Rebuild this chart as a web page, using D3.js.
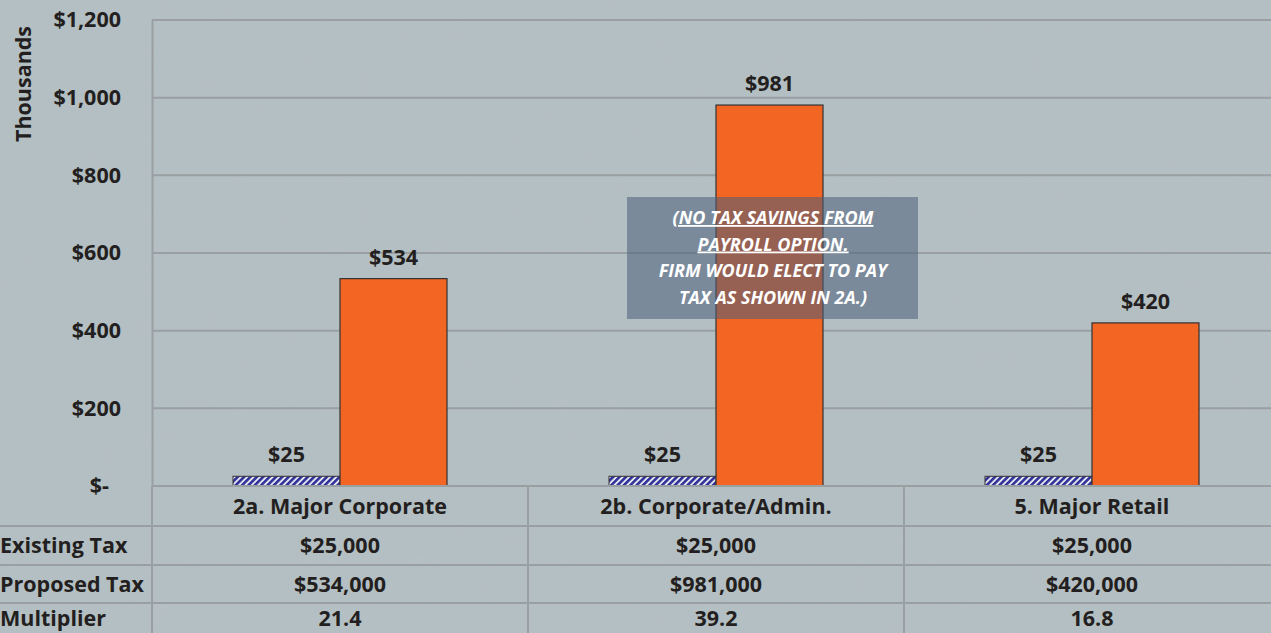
<!DOCTYPE html>
<html>
<head>
<meta charset="utf-8">
<script src="https://cdn.jsdelivr.net/npm/d3@7"></script>
<style>
  body { margin: 0; background: #b4bfc3; overflow: hidden; }
  svg { display: block; font-family: "Open Sans", Lato, sans-serif; }
</style>
</head>
<body>
<div id="chart-area"></div>
<script>
// Data
const categories = ["2a. Major Corporate", "2b. Corporate/Admin.", "5. Major Retail"];
const existingTax = [25, 25, 25];          // thousands
const proposedTax = [534, 981, 420];       // thousands
const multiplier = [21.4, 39.2, 16.8];
const yTicks = [0, 200, 400, 600, 800, 1000, 1200];
const rowLabels = ["Existing Tax", "Proposed Tax", "Multiplier"];
const noteLines = ["(NO TAX SAVINGS FROM", "PAYROLL OPTION.", "FIRM WOULD ELECT TO PAY", "TAX AS SHOWN IN 2A.)"];

const width = 1271, height = 633;
const margin = { top: 20, left: 152, right: -9 };
const plotBottom = 486;
const rowH = [40, 39, 38, 30];
const textColor = "#231f20";
const gridColor = "#9a9fa2";
const fontSize = "21.5px";

const svg = d3.select("#chart-area").append("svg")
    .attr("width", width).attr("height", height);

const defs = svg.append("defs");

// faint texture for the background
const noise = defs.append("filter").attr("id", "noise")
    .attr("x", 0).attr("y", 0).attr("width", "100%").attr("height", "100%");
noise.append("feTurbulence")
    .attr("type", "fractalNoise")
    .attr("baseFrequency", "0.04")
    .attr("numOctaves", 3)
    .attr("seed", 4);
noise.append("feColorMatrix")
    .attr("type", "matrix")
    .attr("values", "0 0 0 0 0.5  0 0 0 0 0.55  0 0 0 0 0.58  0 0 0 -1.2 0.65");
svg.append("rect")
    .attr("width", width).attr("height", height)
    .attr("fill", "#b4bfc3");
svg.append("rect")
    .attr("width", width).attr("height", height)
    .attr("filter", "url(#noise)")
    .attr("opacity", 0.25);

// pattern for existing tax bars
const pat = defs.append("pattern")
    .attr("id", "hatch")
    .attr("patternUnits", "userSpaceOnUse")
    .attr("width", 4.5).attr("height", 4.5)
    .attr("patternTransform", "rotate(45)");
pat.append("rect").attr("width", 4.5).attr("height", 4.5).attr("fill", "#e6e8f0");
pat.append("rect").attr("width", 2.6).attr("height", 4.5).attr("fill", "#30309a");

// Scales
const x = d3.scaleBand()
    .domain(categories)
    .range([margin.left, width - margin.right])
    .paddingInner(0)
    .paddingOuter(0);

const y = d3.scaleLinear()
    .domain([0, 1200])
    .range([plotBottom, margin.top]);

const barW = 107;

// Gridlines
svg.append("g").selectAll("line")
    .data(yTicks.filter(d => d > 0))
    .join("line")
    .attr("x1", margin.left).attr("x2", width)
    .attr("y1", d => y(d)).attr("y2", d => y(d))
    .attr("stroke", gridColor).attr("stroke-width", 2);

// Left axis
const leftAxis = d3.axisLeft(y)
    .tickValues(yTicks)
    .tickSize(0)
    .tickPadding(31)
    .tickFormat(d => d === 0 ? "$-" : "$" + d3.format(",")(d));

const axG = svg.append("g")
    .attr("transform", `translate(${margin.left},0)`)
    .call(leftAxis);
axG.select(".domain").attr("stroke", gridColor).attr("stroke-width", 2);
axG.selectAll("text")
    .attr("font-size", fontSize)
    .attr("font-weight", "bold")
    .attr("fill", textColor)
    .attr("font-family", "'Open Sans', sans-serif");
axG.selectAll(".tick text").filter(d => d === 0).attr("dx", "-12");

// Y axis title
svg.append("text")
    .attr("transform", "rotate(-90)")
    .attr("x", -84).attr("y", 31)
    .attr("text-anchor", "middle")
    .attr("font-size", "21.5px")
    .attr("font-weight", "bold")
    .attr("fill", textColor)
    .text("Thousands");

// Bars
const bars = svg.append("g");
bars.selectAll(".existing")
    .data(categories)
    .join("rect")
    .attr("class", "existing")
    .attr("x", (d) => x(d) + x.bandwidth() / 2 - barW)
    .attr("y", (d, i) => y(existingTax[i]))
    .attr("width", barW)
    .attr("height", (d, i) => y(0) - y(existingTax[i]))
    .attr("fill", "url(#hatch)")
    .attr("stroke", "#333")
    .attr("stroke-width", 1);

bars.selectAll(".proposed")
    .data(categories)
    .join("rect")
    .attr("class", "proposed")
    .attr("x", d => x(d) + x.bandwidth() / 2)
    .attr("y", (d, i) => y(proposedTax[i]))
    .attr("width", barW)
    .attr("height", (d, i) => y(0) - y(proposedTax[i]))
    .attr("fill", "#f26522")
    .attr("stroke", "#333")
    .attr("stroke-width", 1.2);

// Value labels
const labels = svg.append("g")
    .attr("font-size", fontSize)
    .attr("font-weight", "bold")
    .attr("fill", textColor)
    .attr("text-anchor", "middle");
labels.selectAll(".lbl-e")
    .data(categories)
    .join("text")
    .attr("x", d => x(d) + x.bandwidth() / 2 - barW / 2)
    .attr("y", (d, i) => y(existingTax[i]) - 14)
    .text((d, i) => "$" + existingTax[i]);
labels.selectAll(".lbl-p")
    .data(categories)
    .join("text")
    .attr("class", "lbl-p")
    .attr("x", d => x(d) + x.bandwidth() / 2 + barW / 2)
    .attr("y", (d, i) => y(proposedTax[i]) - 14)
    .text((d, i) => "$" + proposedTax[i]);

// Data table
const rowTops = [plotBottom];
rowH.forEach((h, i) => rowTops.push(rowTops[i] + h));
const table = svg.append("g");
table.selectAll(".hline")
    .data(rowTops.slice(1, 4))
    .join("line")
    .attr("x1", 0).attr("x2", width)
    .attr("y1", d => d).attr("y2", d => d)
    .attr("stroke", gridColor).attr("stroke-width", 2);
table.append("line")
    .attr("x1", margin.left).attr("x2", width)
    .attr("y1", plotBottom).attr("y2", plotBottom)
    .attr("stroke", gridColor).attr("stroke-width", 2);
table.selectAll(".vline")
    .data(categories)
    .join("line")
    .attr("x1", d => x(d)).attr("x2", d => x(d))
    .attr("y1", plotBottom).attr("y2", height)
    .attr("stroke", gridColor).attr("stroke-width", 2);

const tableText = table.append("g")
    .attr("font-size", fontSize)
    .attr("font-weight", "bold")
    .attr("fill", textColor);

const rowMid = i => (rowTops[i] + rowTops[i + 1]) / 2;

tableText.selectAll(".cat")
    .data(categories)
    .join("text")
    .attr("x", d => x(d) + x.bandwidth() / 2)
    .attr("y", rowMid(0))
    .attr("dy", "0.35em")
    .attr("text-anchor", "middle")
    .text(d => d);

const rows = [
    existingTax.map(v => "$" + d3.format(",")(v * 1000)),
    proposedTax.map(v => "$" + d3.format(",")(v * 1000)),
    multiplier.map(v => v.toFixed(1))
];

rowLabels.forEach((lab, r) => {
    tableText.append("text")
        .attr("x", 0)
        .attr("y", rowMid(r + 1))
        .attr("dy", "0.35em")
        .text(lab);
    tableText.selectAll(".row" + r)
        .data(categories)
        .join("text")
        .attr("class", "row" + r)
        .attr("x", d => x(d) + x.bandwidth() / 2)
        .attr("y", rowMid(r + 1))
        .attr("dy", "0.35em")
        .attr("text-anchor", "middle")
        .text((d, i) => rows[r][i]);
});

// Note overlay
const note = svg.append("g");
note.append("rect")
    .attr("x", 627).attr("y", 197)
    .attr("width", 291).attr("height", 122)
    .attr("fill", "#4a5f7a")
    .attr("opacity", 0.55);
note.selectAll("text")
    .data(noteLines)
    .join("text")
    .attr("x", 773)
    .attr("y", (d, i) => 224 + i * 26.5)
    .attr("text-anchor", "middle")
    .attr("font-size", "18px")
    .attr("font-weight", "bold")
    .attr("font-style", "italic")
    .attr("fill", "#ffffff")
    .attr("text-decoration", (d, i) => i < 2 ? "underline" : null)
    .text(d => d);
</script>
</body>
</html>
